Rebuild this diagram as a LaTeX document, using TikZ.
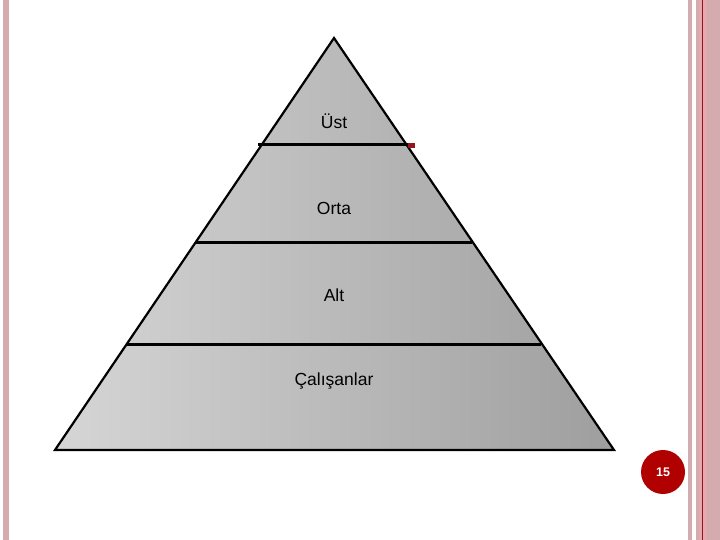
\documentclass[tikz,border=0pt]{standalone}
\usepackage{fontspec}
\setmainfont{Liberation Sans}
\definecolor{pLight}{RGB}{214,214,214}
\definecolor{pDark}{RGB}{158,158,158}
\definecolor{bandA}{RGB}{212,172,176}
\definecolor{bandB}{RGB}{228,170,176}
\definecolor{lineRed}{RGB}{150,20,30}
\definecolor{badge}{RGB}{176,0,0}
\tikzset{
  tier/.style={font=\fontsize{17.5}{20}\selectfont, text=black},
  divider/.style={line width=3pt, black},
}
\begin{document}
\begin{tikzpicture}[x=1pt,y=-1pt]
\useasboundingbox (0,0) rectangle (720,540);
\fill[white] (0,0) rectangle (720,540);
% borders
\fill[bandA] (3,0) rectangle (9,540);
\fill[bandA] (688,0) rectangle (692,540);
\fill[bandA] (696,0) rectangle (720,540);
\fill[bandB] (699,0) rectangle (707,540);
\draw[lineRed, line width=1pt] (702,0) -- (702,540);
% pyramid
\coordinate (apex) at (334,38);
\coordinate (bl) at (55,450);
\coordinate (br) at (614,450);
\shade[left color=pLight, right color=pDark] (apex) -- (br) -- (bl) -- cycle;
\draw[line width=2.2pt, line join=miter] (apex) -- (br) -- (bl) -- cycle;
% dividers
\coordinate (d1l) at (258,145); \coordinate (d1r) at (408,145);
\coordinate (d2l) at (196,242); \coordinate (d2r) at (472,242);
\coordinate (d3l) at (127,344); \coordinate (d3r) at (541,344);
\draw[divider] (d1l) -- (d1r);
\draw[divider] (d2l) -- (d2r);
\draw[divider] (d3l) -- (d3r);
\fill[lineRed] (408,143.5) rectangle (415,148);
% labels
\node[tier] (ust) at (334,121) {Üst};
\node[tier] (orta) at (334,208) {Orta};
\node[tier] (alt) at (334,295) {Alt};
\node[tier] (cal) at (334,381) {Çalışanlar};
% page badge
\node[circle, fill=badge, minimum size=44pt, inner sep=0pt, text=white, font=\bfseries\fontsize{12.5}{14}\selectfont] (page) at (663,472) {15};
\end{tikzpicture}
\end{document}
